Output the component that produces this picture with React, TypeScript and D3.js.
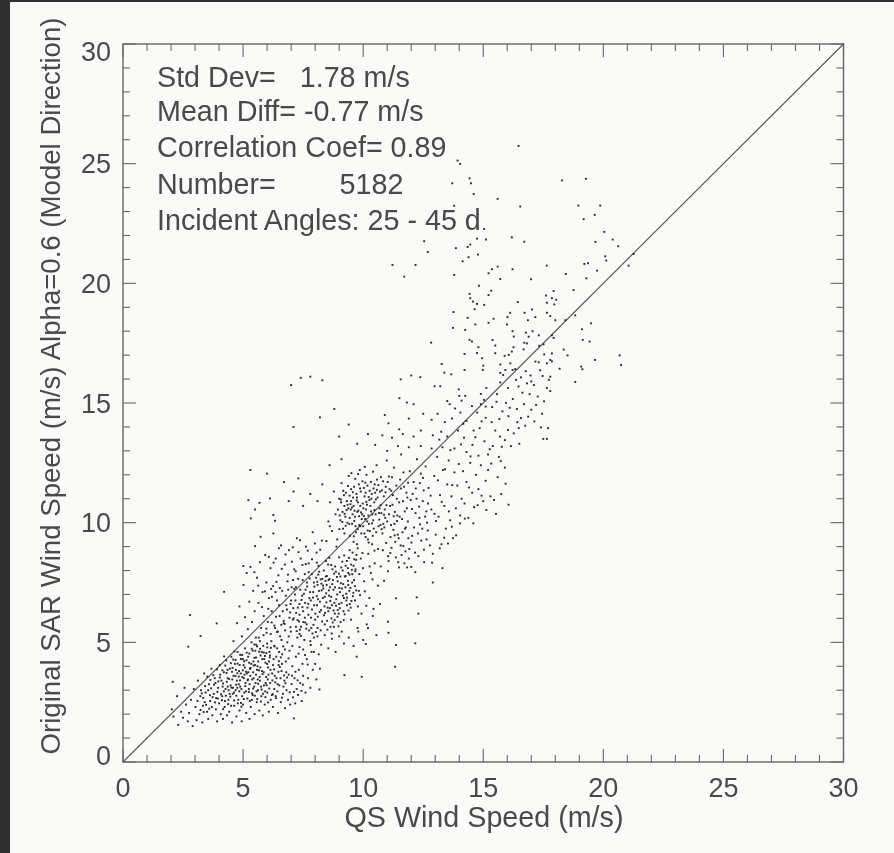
import React from "react";
import * as d3 from "d3";

const xTicks = [0, 5, 10, 15, 20, 25, 30];
const yTicks = [0, 5, 10, 15, 20, 25, 30];
const minorTicks = d3.range(0, 31);
const statLines = [
  "Std Dev=\u00a0\u00a0\u00a01.78 m/s",
  "Mean Diff= -0.77 m/s",
  "Correlation Coef= 0.89",
  "Number=\u00a0\u00a0\u00a0\u00a0\u00a0\u00a0\u00a0\u00a05182",
  "Incident Angles: 25 - 45 d",
];
const xTitle = "QS Wind Speed (m/s)";
const yTitle = "Original SAR Wind Speed (m/s) Alpha=0.6 (Model Direction)";
const identityLine = [0, 30];

// Values, pairs of QS speed, SAR speed.
const upperScatter = [
16.47,25.74,13.93,25.13,14.04,24.99,14.43,24.39,13.71,24.18,14.49,24.18,18.28,24.3,19.28,24.37,14.6,23.73,15.6,23.53,
16.54,23.21,18.96,23.25,19.87,23.25,13.79,23.24,19.18,22.68,19.64,22.86,14.39,22.77,15.04,22.27,20.04,22.15,12.54,21.76,
14.74,21.87,15.11,21.83,16.19,21.92,16.71,21.74,20.39,21.83,19.67,21.73,20.62,21.55,12.69,21.31,14.46,21.62,14.35,21.52,
13.86,21.47,14.78,21.2,14.39,21.09,14.14,20.92,20.08,21.13,20.12,20.95,21.26,21.23,21.05,20.74,11.22,20.77,12.18,20.77,
11.71,20.28,13.79,20.35,16.22,20.59,15.6,20.7,15.36,20.59,15.22,20.42,15.71,20.18,16.99,20.17,17.64,20.74,18.44,20.39,
19.21,20.81,19.36,20.84,19.74,20.53,19.29,20.21,14.82,19.9,15.33,19.69,15.22,19.51,14.43,19.56,14.46,19.38,14.57,19.24,
14.74,19.14,15.04,19.1,14.64,18.92,18.76,19.72,17.93,19.68,17.61,19.49,17.86,19.38,18.04,19.31,17.65,19.19,17.96,19.12,
16.44,19.22,13.76,18.8,17.03,18.91,16.72,18.77,16.12,18.77,16.01,18.59,17.65,18.77,17.79,18.63,18.0,18.46,18.83,18.66,
18.42,18.46,15.43,18.52,15.22,18.35,14.67,18.28,14.35,18.56,17.17,18.59,16.86,18.46,15.99,18.28,13.74,18.14,14.25,18.05,
19.49,18.33,19.11,18.08,16.22,18.0,16.78,17.94,17.05,18.0,16.27,17.78,16.89,17.77,17.31,17.83,17.86,17.83,17.93,17.72,
19.14,17.64,19.43,17.57,14.43,17.64,14.53,17.57,15.39,17.63,12.83,17.52,16.71,17.52,16.82,17.49,14.8,17.33,15.5,17.4,
16.26,17.33,17.33,17.39,17.51,17.45,18.35,17.23,18.51,16.99,15.89,16.97,16.06,17.01,16.19,17.15,14.74,17.09,14.95,16.87,
14.22,17.05,15.5,17.08,16.68,17.24,17.86,17.07,17.54,17.03,17.79,16.8,20.68,16.99,20.74,16.59,19.65,16.8,19.08,16.52,
19.13,16.41,18.18,16.43,17.17,16.73,17.31,16.7,17.65,16.66,17.86,16.74,16.13,16.66,16.33,16.42,15.71,16.61,15.0,16.56,
14.22,16.38,14.98,16.38,13.27,16.63,13.38,16.27,13.67,16.2,15.71,16.26,15.92,16.38,16.22,16.38,16.97,16.15,17.47,16.13,
17.79,16.1,18.83,15.88,17.0,15.9,17.11,15.75,16.82,15.82,16.47,15.69,17.65,15.63,17.79,15.5,11.56,15.99,12.0,16.15,
12.38,16.08,12.97,15.7,13.21,15.7,13.98,15.57,14.0,15.3,14.25,15.3,14.9,15.38,15.13,15.63,15.71,15.86,11.51,15.2,
11.82,15.02,12.1,14.95,13.5,15.08,13.6,14.95,14.1,15.1,14.9,14.95,15.1,14.85,15.55,15.05,15.95,15.0,16.1,14.8,
16.4,14.75,16.7,14.95,17.0,14.72,17.45,14.55,17.2,14.92,16.05,14.45,15.8,14.65,15.35,14.2,15.1,14.38,16.48,13.95,
16.42,14.2,16.75,14.05,14.6,13.85,14.85,13.95,15.5,13.85,15.7,13.6,17.4,13.98,17.7,13.95,17.5,13.5,17.65,13.5,
11.05,14.15,11.5,13.9,10.9,14.5,11.9,14.35,12.5,14.55,12.85,14.3,13.1,14.55,13.4,14.2,13.7,14.35,14.05,14.6,
14.3,14.25,14.75,14.6,10.8,13.65,11.2,13.55,11.65,13.7,12.1,13.6,12.4,13.85,12.9,13.65,13.25,13.8,13.5,13.6,
13.95,13.85,14.2,13.55,14.55,13.25,15.05,13.4,15.4,13.2,15.9,13.45,16.15,13.2,16.5,13.3,15.2,12.85,15.65,12.75,
14.8,12.8,14.3,12.95,13.8,13.1,13.3,13.15,12.85,13.1,12.4,13.2,11.9,13.15,11.45,13.2,11.0,13.0,10.5,13.25,
10.2,13.7,9.75,13.3,9.4,14.1,9.0,13.6,8.3,15.95,7.4,16.05,7.0,15.75,7.8,16.1,7.1,14.0,8.2,14.4,8.8,14.75,
];

const sideOutliers = [
2.79,6.14,2.07,3.35,2.72,4.82,4.21,7.11,3.23,5.26,3.9,5.79,5.22,10.94,5.32,10.18,5.5,10.55,5.68,10.83,6.12,11.01,
6.26,10.32,6.33,10.08,6.26,9.55,5.73,9.41,5.5,9.02,5.01,8.19,12.17,4.96,11.37,4.89,11.33,3.98,9.94,3.56,9.22,3.63,
7.12,1.82,8.18,3.03,12.23,6.88,11.36,6.84,11.03,5.86,11.05,5.4,10.11,4.93,9.73,4.4,5.3,12.2,6.0,12.05,6.7,11.7,
7.3,11.85,7.8,11.2,7.1,11.3,6.9,10.9,7.5,10.7,8.1,10.9,8.3,11.6,8.6,12.4,9.1,12.65,12.3,6.2,12.9,7.5,13.3,8.1,
];

const lowCluster = [
2.03,2.2,2.1,1.9,2.25,2.75,2.3,1.55,2.42,2.1,2.5,1.85,2.56,3.1,2.62,2.4,2.7,1.7,2.75,2.05,2.83,2.6,2.9,1.5,2.95,3.05,
3.02,2.3,3.06,1.75,3.12,3.4,3.18,2.0,3.22,2.75,3.3,1.65,3.33,2.35,3.38,3.7,3.44,2.9,3.5,2.1,3.55,1.8,3.58,3.25,3.63,2.55,
3.68,3.9,3.72,1.95,3.78,2.85,3.82,3.5,3.87,2.2,3.92,1.7,3.96,3.1,4.0,2.45,4.03,4.05,4.07,2.0,4.1,3.4,4.13,2.75,4.16,1.8,
4.2,3.75,4.23,2.3,4.27,3.05,4.3,4.25,4.33,1.95,4.36,3.5,4.39,2.6,4.42,2.1,4.45,3.9,4.48,3.2,4.51,4.4,4.54,1.65,4.57,2.85,
4.6,3.6,4.63,2.35,4.66,4.1,4.69,3.0,4.72,1.9,4.74,3.4,4.77,4.6,4.8,2.6,4.83,3.8,4.85,2.15,4.88,3.15,4.91,4.3,4.94,1.7,
4.97,3.55,5.0,2.4,5.02,4.05,5.05,2.9,5.08,4.75,5.1,3.3,5.13,2.05,5.16,3.7,5.18,2.65,5.21,4.4,5.24,3.05,5.27,1.8,5.29,3.9,
5.32,2.3,5.35,5.0,5.38,3.45,5.4,2.8,5.43,4.2,5.46,3.15,5.48,2.0,5.51,4.65,5.54,3.65,5.57,2.5,5.6,4.0,5.62,3.0,5.65,5.2,
5.68,2.15,5.7,3.4,5.73,4.45,5.76,2.75,5.79,3.8,5.82,1.95,5.84,4.85,5.87,3.2,5.9,2.4,5.93,4.15,5.96,3.55,5.98,5.4,6.01,2.9,
6.04,3.95,6.07,2.1,6.1,4.6,6.13,3.3,6.15,2.6,6.18,5.05,6.21,3.7,6.24,2.3,6.27,4.3,6.3,3.05,6.33,5.6,6.36,2.75,6.39,3.5,
6.42,4.75,6.45,2.05,6.48,4.05,6.51,3.2,6.54,5.25,6.57,2.5,6.6,3.8,6.63,4.5,6.66,2.85,6.69,5.8,6.72,3.4,6.75,2.25,6.78,4.2,
6.81,3.0,6.84,5.0,6.87,2.6,6.9,3.65,6.93,4.65,6.96,2.4,6.99,5.45,7.02,3.25,7.05,4.0,7.08,2.7,7.11,6.0,7.14,3.5,7.17,2.45,
7.2,4.4,7.23,3.05,7.26,5.2,7.29,2.8,7.32,3.85,7.35,4.8,7.38,3.3,7.41,5.65,7.44,2.55,7.47,4.1,7.5,3.6,
3.1,2.55,3.25,3.0,3.4,2.5,3.55,3.0,3.7,2.3,3.85,3.3,3.95,2.65,4.05,3.65,4.15,3.15,4.25,2.55,4.35,3.85,4.4,3.0,4.5,2.35,
4.55,3.45,4.62,2.9,4.7,3.85,4.78,2.45,4.82,3.25,4.9,3.7,4.96,2.75,5.03,3.5,5.07,3.95,5.12,2.95,5.2,3.45,5.25,4.15,5.3,3.6,
5.36,2.6,5.42,3.75,5.47,4.35,5.52,3.3,5.58,3.85,5.63,4.2,5.69,3.55,5.75,3.15,5.8,4.3,5.86,3.75,5.92,2.95,5.97,4.55,6.03,3.45,
6.08,4.2,6.14,3.85,6.2,2.8,6.25,4.05,6.32,3.6,6.38,4.4,6.44,3.25,6.5,4.6,6.56,3.5,6.62,4.1,6.68,3.15,6.74,4.7,6.8,3.75,
4.2,2.95,4.32,3.35,4.44,2.85,4.58,3.1,4.68,3.6,4.76,3.1,4.86,4.05,4.93,3.05,4.99,4.3,5.06,3.65,5.14,4.25,5.22,3.75,5.28,2.55,
5.34,4.1,5.44,3.5,5.5,4.05,5.56,2.95,5.61,3.45,5.72,3.95,5.78,4.6,5.88,4.3,5.94,3.3,6.0,4.1,6.06,3.65,6.12,4.45,
7.55,5.1,7.6,2.9,7.65,4.3,7.7,3.5,7.75,5.5,7.8,3.1,7.85,4.6,7.9,3.85,7.95,5.2,8.0,4.1,8.05,3.45,8.1,5.6,8.15,4.5,8.2,3.9,
];

const lowDense = [
4.31,3.72,5.47,4.91,3.88,2.67,6.22,3.41,4.93,2.31,5.71,4.73,4.17,3.28,6.57,4.37,3.59,2.23,5.09,3.17,4.64,4.62,5.93,2.71,3.42,3.17,
6.31,4.83,4.47,2.73,5.26,4.53,3.76,3.63,6.04,2.49,4.82,3.57,5.63,3.27,4.08,2.83,6.71,3.62,3.23,2.17,5.37,2.87,4.59,4.28,5.81,3.67,
4.26,4.03,6.43,2.95,3.67,3.08,5.15,4.57,4.71,3.23,5.98,3.21,3.91,3.87,6.16,4.77,4.38,2.42,5.54,4.37,4.99,3.83,3.34,2.68,6.62,2.69,
4.12,2.58,5.74,2.53,4.88,4.48,5.42,3.07,3.73,2.71,6.29,3.87,4.51,3.11,5.03,2.63,3.97,3.37,6.49,4.21,4.77,4.11,5.58,4.83,4.21,4.41,
3.51,3.57,6.09,3.07,4.63,2.57,5.31,3.93,4.96,4.47,5.86,4.57,3.83,2.49,6.37,2.67,4.42,3.47,5.19,3.41,4.72,2.77,5.66,3.83,3.28,2.87,
6.76,3.29,4.03,3.53,5.49,2.77,4.84,2.95,6.11,4.37,3.62,2.79,5.24,2.93,4.54,3.77,5.91,4.43,4.17,2.21,6.53,3.97,3.46,2.39,5.12,3.77,
4.69,4.27,5.77,3.03,4.36,3.15,6.01,4.79,3.79,3.23,5.36,4.73,4.91,2.47,6.24,2.83,4.49,4.13,5.59,2.63,3.93,2.93,6.67,4.83,4.76,3.71,
5.04,4.21,4.28,2.77,5.83,2.85,3.64,3.43,6.34,3.33,4.56,3.93,5.27,3.25,4.87,3.41,5.67,4.61,4.14,3.83,6.47,3.77,3.36,2.09,5.44,4.03,
7.31,4.53,7.04,3.61,7.43,2.97,6.89,4.33,7.18,3.77,7.58,4.47,6.94,2.91,7.27,3.41,7.69,4.07,7.12,2.93,7.49,3.23,7.82,4.89,6.83,3.53,
];

const midCluster = [
4.6,5.05,4.75,5.8,4.85,6.5,4.95,5.25,5.02,7.4,5.08,6.05,5.15,7.9,5.2,5.55,5.26,6.7,5.31,8.15,5.37,5.85,5.42,7.15,5.48,6.3,
5.53,5.2,5.58,7.7,5.64,6.65,5.7,8.35,5.75,5.6,5.81,7.1,5.86,6.1,5.92,8.65,5.97,7.5,6.03,5.85,6.08,6.85,6.14,8.1,6.19,6.3,
6.25,7.35,6.3,5.7,6.36,8.5,6.41,6.75,6.47,7.8,6.52,6.1,6.58,9.05,6.63,7.15,6.69,5.9,6.74,8.25,6.8,6.55,6.85,7.55,6.91,8.85,
6.96,6.25,7.02,7.3,7.07,5.95,7.13,8.05,7.18,6.75,7.24,9.35,7.29,7.65,7.35,6.15,7.4,8.5,7.46,6.95,7.51,5.85,7.57,7.85,7.62,9.0,
7.68,6.45,7.73,8.3,7.79,7.1,7.84,5.6,7.9,9.6,7.95,7.5,8.01,6.2,8.06,8.75,8.12,6.8,8.17,7.95,8.23,5.5,8.28,9.25,8.34,7.25,
8.39,6.5,8.45,8.4,8.5,5.9,8.56,7.6,8.61,9.85,8.67,6.9,8.72,8.05,8.78,5.65,8.83,7.3,8.89,9.0,8.94,6.35,9.0,8.55,9.05,7.75,
9.11,5.45,9.16,6.95,9.22,9.55,9.27,8.2,9.33,6.55,9.38,7.4,9.44,8.85,9.49,5.95,9.55,7.85,9.6,9.2,9.66,6.75,9.71,8.45,9.77,5.6,
9.82,7.15,9.88,9.85,9.93,6.2,9.99,8.1,10.04,7.55,10.1,9.4,10.15,5.75,10.21,8.7,10.26,6.85,10.32,7.9,10.37,9.1,10.43,6.4,10.48,8.3,
7.0,6.75,7.2,7.3,7.35,6.6,7.5,6.3,7.6,7.2,7.72,6.15,7.82,6.75,7.92,7.1,8.0,5.95,8.08,6.55,8.16,7.15,8.24,6.35,8.32,6.85,
8.4,5.75,8.46,7.05,8.52,6.45,8.58,6.95,8.64,5.65,8.7,6.55,8.76,7.2,8.82,6.2,8.88,6.8,8.94,7.55,9.0,6.6,9.06,5.85,9.12,7.25,
9.18,6.3,9.24,7.75,9.3,6.75,9.36,8.1,9.42,7.15,9.48,6.45,9.54,7.5,9.6,8.2,9.66,7.35,9.72,8.65,9.78,6.5,9.84,7.85,9.9,8.5,
8.1,7.4,8.2,6.7,8.3,7.65,8.4,6.9,8.48,7.4,8.55,6.3,8.62,7.3,8.68,6.0,8.74,7.6,8.8,6.65,8.86,7.95,8.92,7.0,8.98,6.2,
9.04,7.1,9.1,6.65,9.15,8.0,9.2,6.85,9.26,7.3,9.32,8.4,9.38,7.9,9.44,6.6,9.5,8.25,9.56,8.75,9.62,7.6,9.68,8.05,9.74,9.1,
6.05,6.4,6.2,6.9,6.35,7.1,6.5,6.55,6.65,6.3,6.78,6.95,6.88,7.2,6.98,6.6,7.08,7.6,7.16,7.0,7.28,6.45,7.38,7.2,7.48,7.6,
7.58,6.65,7.66,7.5,7.76,6.85,7.86,7.85,7.96,6.55,8.04,7.7,8.14,8.2,8.26,7.45,8.36,8.0,8.44,7.75,8.54,8.25,8.6,7.65,
5.4,4.65,5.55,4.9,5.7,5.05,5.85,5.3,6.0,4.95,6.15,5.35,6.3,4.85,6.45,5.45,6.6,5.1,6.75,5.5,6.9,5.25,7.05,4.85,7.2,5.65,
7.35,5.35,7.5,4.7,7.65,5.75,7.8,5.05,7.95,4.6,8.1,5.25,8.25,4.9,8.4,5.3,8.55,4.75,8.7,5.15,8.85,4.6,9.0,5.25,9.2,4.95,
9.4,5.2,9.6,4.85,9.8,5.45,10.0,5.1,10.2,5.6,10.4,6.1,10.55,5.3,10.7,6.6,
];

const midDense = [
8.37,6.13,9.07,7.47,7.63,5.57,8.81,5.93,9.41,8.53,7.27,5.93,8.13,7.83,9.71,7.17,7.87,6.37,8.59,8.53,9.23,6.17,7.43,6.77,8.91,7.73,
9.57,6.93,8.03,5.43,8.71,7.43,9.13,8.37,7.53,7.03,8.47,6.67,9.37,7.57,7.97,7.33,8.77,6.33,9.63,8.47,7.21,6.23,8.29,5.87,9.03,6.43,
7.71,6.61,8.57,7.17,9.29,7.03,7.93,5.73,8.67,8.23,9.47,7.27,8.19,6.27,8.97,5.67,7.37,5.53,8.43,7.57,9.17,7.43,7.77,7.67,8.83,8.17,
9.53,8.03,8.07,6.93,8.73,5.83,9.33,6.87,7.59,5.83,8.33,7.37,9.09,8.13,7.83,6.03,8.51,5.53,9.43,7.83,7.67,7.33,8.87,6.53,9.67,7.97,
8.23,7.63,8.93,6.07,7.47,6.47,8.63,6.73,9.19,5.93,7.91,6.87,8.41,6.23,9.51,6.73,8.11,6.07,8.79,7.87,9.27,7.77,7.57,6.03,8.49,7.77,
9.77,8.93,7.13,7.23,8.69,5.37,9.01,7.27,7.89,5.37,8.27,7.17,9.39,6.33,7.73,7.93,8.99,7.87,9.59,7.07,8.09,7.53,8.61,6.43,9.21,8.63,
6.41,5.43,6.93,6.03,5.97,5.57,6.73,5.77,7.23,5.47,6.37,6.07,6.97,5.63,7.41,5.27,6.19,5.83,6.83,6.37,7.09,6.43,6.59,5.73,7.33,5.87,
5.91,7.13,6.27,8.33,5.63,7.37,6.61,8.07,7.03,8.37,5.79,6.47,6.39,7.53,6.77,8.67,7.19,7.97,7.47,8.23,6.07,8.57,6.53,7.27,7.31,8.77,
7.61,8.27,6.87,7.83,7.07,8.97,5.47,7.93,6.17,7.23,7.69,8.83,6.49,8.93,7.37,9.27,7.87,8.47,7.99,9.13,8.21,8.87,8.47,9.23,8.07,8.33,
9.87,6.97,10.07,7.13,9.97,8.73,10.27,8.17,10.13,6.53,10.39,7.63,10.23,9.17,10.47,8.83,10.61,7.37,10.73,8.17,10.87,7.57,11.03,7.97,
];

const topCluster = [
8.55,10.05,8.62,10.85,8.7,9.65,8.78,11.3,8.85,10.35,8.92,9.3,9.0,11.0,9.05,10.1,9.1,11.65,9.16,9.75,9.22,10.7,9.28,11.25,
9.34,10.0,9.4,11.95,9.45,9.45,9.5,10.9,9.56,10.35,9.62,11.5,9.68,9.85,9.74,11.05,9.8,10.5,9.86,12.2,9.92,9.55,9.98,10.8,
10.03,11.45,10.08,10.15,10.14,12.0,10.2,9.3,10.26,10.95,10.32,11.7,10.38,10.35,10.44,9.75,10.5,11.25,10.56,12.4,10.62,8.9,
10.68,10.6,10.74,11.9,10.8,9.55,10.86,11.1,10.92,10.2,10.98,12.6,11.04,8.6,11.1,11.4,11.16,9.9,11.22,10.75,11.28,12.3,
11.34,9.2,11.4,11.0,11.46,8.35,11.52,10.25,11.58,12.85,11.64,9.6,11.7,11.5,11.76,8.8,11.82,10.6,11.88,9.35,11.94,12.15,
12.0,8.15,12.06,11.2,12.12,9.8,12.18,10.4,12.24,12.65,12.3,8.6,12.36,11.65,12.42,9.25,12.48,10.9,12.54,8.35,12.6,12.35,
12.66,10.0,12.72,11.45,12.78,9.05,12.84,10.55,12.9,8.7,12.96,11.95,13.02,9.5,13.08,12.75,13.14,10.25,13.2,11.15,13.26,9.1,
13.32,12.2,13.38,10.7,13.44,9.75,13.5,11.6,13.56,12.6,13.62,10.1,13.68,11.1,13.74,9.35,13.8,12.1,13.86,10.6,13.92,11.55,
13.98,12.45,14.04,10.3,14.1,11.0,14.16,12.15,14.22,10.8,14.3,11.7,14.38,10.2,14.46,12.5,14.54,11.25,14.62,10.65,14.7,12.0,
14.8,11.4,14.9,12.4,15.0,10.9,15.1,11.75,15.2,12.2,15.3,11.1,15.45,10.95,15.6,11.9,15.75,11.2,15.9,12.3,16.05,10.75,
8.95,10.55,9.02,10.3,9.08,10.85,9.14,10.45,9.2,11.15,9.26,10.25,9.32,10.9,9.38,10.6,9.44,10.2,9.5,11.4,9.54,9.95,9.6,10.7,
9.66,10.25,9.72,11.2,9.78,10.85,9.84,9.9,9.9,11.3,9.96,10.35,10.0,9.85,10.06,11.1,10.12,10.55,10.18,11.55,10.24,9.95,
10.3,10.7,10.36,11.2,10.42,10.1,10.48,11.6,10.54,9.6,10.6,11.05,10.66,10.4,10.72,9.9,10.78,11.35,10.84,9.95,10.9,10.55,
10.96,9.15,11.02,11.7,11.08,10.35,11.14,9.4,11.2,11.9,11.26,9.7,11.32,10.45,11.38,11.55,11.44,9.5,11.5,10.85,11.56,9.05,
11.62,10.15,11.68,12.1,11.74,9.75,11.8,11.25,11.86,10.05,11.92,8.9,11.98,10.95,12.04,9.45,12.1,11.7,12.16,8.75,12.22,11.0,
12.28,9.55,12.34,10.2,12.4,12.05,12.46,9.75,12.52,11.35,12.58,10.25,12.64,9.3,12.7,10.8,
9.35,10.75,9.42,9.95,9.48,10.55,9.58,11.05,9.64,10.5,9.7,9.6,9.76,10.45,9.82,11.6,9.88,10.7,9.94,10.15,10.01,10.6,
10.05,9.55,10.1,11.25,10.16,10.75,10.22,10.3,10.28,9.65,10.34,11.0,10.4,9.45,10.46,10.85,10.52,10.35,10.58,11.8,10.64,9.85,
10.7,11.3,10.76,10.4,10.82,8.85,10.88,9.8,10.94,11.5,11.0,10.05,11.06,8.4,11.12,10.7,11.18,8.95,11.24,11.15,11.3,9.95,
11.36,8.55,11.42,10.3,11.48,9.35,11.54,11.8,11.6,8.65,11.66,10.9,11.72,8.3,11.78,9.8,11.84,11.05,11.9,8.5,
];

const topDense = [
9.53,10.63,10.23,11.07,9.07,10.97,10.67,10.13,9.87,11.43,10.37,9.97,9.27,9.87,10.83,11.73,9.63,10.07,10.13,10.87,9.17,11.33,10.47,10.53,
9.77,9.73,10.57,11.37,9.31,10.53,10.03,10.27,9.67,11.83,10.73,10.73,9.43,11.13,10.19,9.67,9.83,10.27,10.93,11.27,9.13,10.03,10.43,11.43,
9.57,11.27,10.09,11.67,9.73,10.93,10.33,10.47,9.37,11.53,10.63,11.57,9.91,10.43,10.27,11.33,9.47,10.77,10.87,10.33,9.23,10.37,10.53,10.97,
9.97,11.73,10.77,9.73,9.61,9.43,10.17,10.05,9.79,12.03,10.41,12.13,9.01,9.73,10.97,10.73,9.51,12.07,11.07,11.93,10.07,12.33,11.17,11.33,
11.27,10.27,11.41,10.07,11.57,11.43,11.73,10.47,11.87,11.67,12.03,10.57,12.19,11.43,12.33,10.67,12.49,11.87,12.63,10.47,12.81,11.13,
12.97,10.37,13.11,11.77,13.27,10.87,13.41,12.23,13.57,10.47,13.71,11.57,11.13,8.73,11.31,9.47,11.49,8.13,11.67,9.03,11.83,8.13,12.01,9.17,
12.17,7.93,12.37,9.93,12.53,8.87,12.69,9.67,12.87,8.33,13.03,10.07,13.19,8.93,13.37,9.37,13.53,9.13,13.69,9.83,13.87,9.47,14.03,9.97,
14.23,10.17,14.41,11.47,14.59,9.97,14.77,10.73,14.93,11.13,15.13,10.53,15.33,12.47,15.53,10.37,15.73,12.57,15.93,11.63,
13.17,13.47,13.63,13.03,14.07,13.27,14.47,12.77,14.67,13.57,15.27,13.07,15.77,13.17,16.03,13.87,16.27,13.73,16.57,14.37,16.87,14.43,
17.13,14.23,15.37,14.83,14.93,14.23,15.67,14.33,16.23,15.17,16.63,15.43,15.03,15.13,14.53,14.87,14.17,14.13,13.83,14.77,17.27,15.27,
17.53,15.07,16.93,15.37,16.37,15.97,15.57,15.37,16.03,15.63,16.77,16.33,16.57,16.07,17.37,16.37,17.73,15.97,15.83,16.17,
];

const allValues = [
  ...upperScatter, ...sideOutliers, ...lowCluster, ...lowDense,
  ...midCluster, ...midDense, ...topCluster, ...topDense,
];
const points = d3.range(0, allValues.length - 1, 2).map((i) => [allValues[i], allValues[i + 1]]);

const width = 894;
const height = 853;
const ink = "#4a4a4a";

export default function App() {
  const x = d3.scaleLinear().domain([0, 30]).range([123, 843.5]);
  const y = d3.scaleLinear().domain([0, 30]).range([762, 44]);
  const lineGen = d3.line<number>().x((d) => x(d)).y((d) => y(d));
  const font = "'Liberation Sans', Arial, sans-serif";
  return (
    <svg
      width={width}
      height={height}
      style={{ position: "absolute", left: 0, top: 0, display: "block" }}
      fontFamily={font}
    >
      <defs>
        <filter id="scan" x="0" y="0" width="100%" height="100%">
          <feGaussianBlur stdDeviation="0.45" />
        </filter>
      </defs>
      <rect width={width} height={height} fill="#fafaf8" />
      <rect x={0} y={0} width={10} height={height} fill="#303030" />
      <rect x={0} y={0} width={width} height={2} fill="#303030" />
      <g filter="url(#scan)">
        <rect
          x={x(0)}
          y={y(30)}
          width={x(30) - x(0)}
          height={y(0) - y(30)}
          fill="none"
          stroke="#666"
          strokeWidth={1.4}
        />
        {minorTicks.map((t) => {
          const len = t % 5 === 0 ? 13 : 7;
          return (
            <g key={t} stroke="#666" strokeWidth={1.1}>
              <line x1={x(t)} x2={x(t)} y1={y(0)} y2={y(0) - len} />
              <line x1={x(t)} x2={x(t)} y1={y(30)} y2={y(30) + len} />
              <line x1={x(0)} x2={x(0) + len} y1={y(t)} y2={y(t)} />
              <line x1={x(30)} x2={x(30) - len} y1={y(t)} y2={y(t)} />
            </g>
          );
        })}
        <path d={lineGen(identityLine) ?? ""} fill="none" stroke="#555" strokeWidth={1.1} />
        {points.map(([a, b], i) => (
          <rect key={i} x={x(a) - 0.95} y={y(b) - 0.95} width={1.9} height={1.9} fill="#2a2a2a" />
        ))}
        <g fontSize={27} fill={ink}>
          {xTicks.map((t) => (
            <text key={t} x={x(t)} y={797} textAnchor="middle">
              {t}
            </text>
          ))}
          {yTicks.map((t) => (
            <text
              key={t}
              x={111}
              y={y(t) + 9.5 + (t === 30 ? 7 : t === 0 ? -7 : 0)}
              textAnchor="end"
            >
              {t}
            </text>
          ))}
          <text x={484} y={827} textAnchor="middle" fontSize={28.7}>
            {xTitle}
          </text>
          <text
            transform={`translate(60,386) rotate(-90)`}
            textAnchor="middle"
            fontSize={27.6}
          >
            {yTitle}
          </text>
        </g>
        <g fontSize={28.7} fill={ink}>
          {statLines.map((s, i) => (
            <text key={i} x={157} y={[87, 121, 157, 194, 230][i]}>
              {s}
            </text>
          ))}
        </g>
      </g>
    </svg>
  );
}
